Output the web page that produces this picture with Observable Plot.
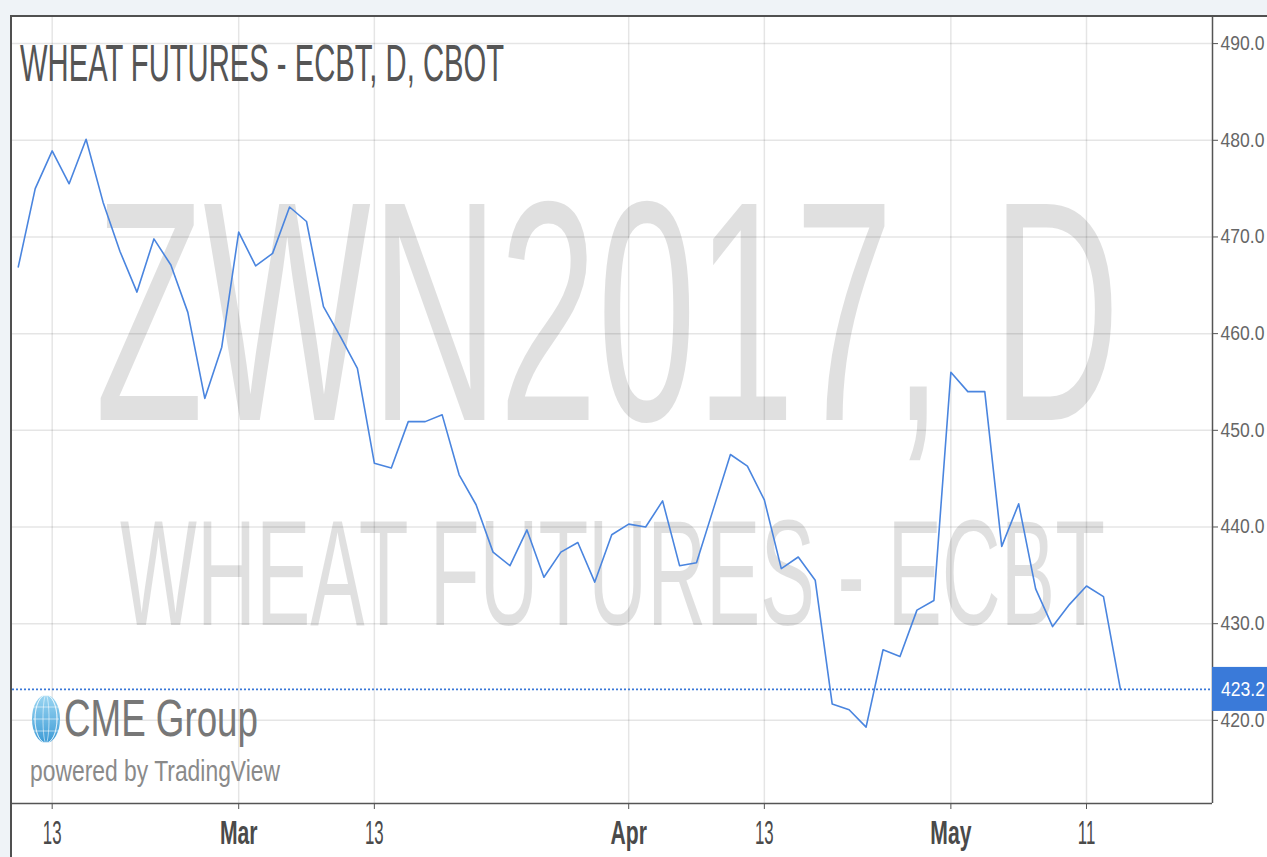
<!DOCTYPE html>
<html><head><meta charset="utf-8">
<script src="https://cdn.jsdelivr.net/npm/d3@7"></script>
<script src="https://cdn.jsdelivr.net/npm/@observablehq/plot@0.6"></script>
<style>
html,body{margin:0;padding:0;background:#eff3f7;}
#wrap{position:absolute;left:10px;top:15px;width:1257px;height:842px;box-sizing:border-box;background:#fff;border-top:2px solid #505050;border-left:2px solid #505050;overflow:hidden;}
</style></head><body><div id="wrap"></div>
<script>
// Trading days (CBOT closed Feb 20 and Apr 14, 2017)
const dates = [
  "2017-02-09","2017-02-10","2017-02-13","2017-02-14","2017-02-15","2017-02-16","2017-02-17","2017-02-21","2017-02-22","2017-02-23","2017-02-24","2017-02-27","2017-02-28",
  "2017-03-01","2017-03-02","2017-03-03","2017-03-06","2017-03-07","2017-03-08","2017-03-09","2017-03-10","2017-03-13","2017-03-14","2017-03-15","2017-03-16","2017-03-17","2017-03-20","2017-03-21","2017-03-22","2017-03-23","2017-03-24","2017-03-27","2017-03-28","2017-03-29","2017-03-30","2017-03-31",
  "2017-04-03","2017-04-04","2017-04-05","2017-04-06","2017-04-07","2017-04-10","2017-04-11","2017-04-12","2017-04-13","2017-04-17","2017-04-18","2017-04-19","2017-04-20","2017-04-21","2017-04-24","2017-04-25","2017-04-26","2017-04-27","2017-04-28",
  "2017-05-01","2017-05-02","2017-05-03","2017-05-04","2017-05-05","2017-05-08","2017-05-09","2017-05-10","2017-05-11","2017-05-12","2017-05-15"
];
const closes = [
  466.9,475.0,478.9,475.5,480.1,473.6,468.5,464.3,469.8,467.1,462.2,453.3,458.6,
  470.5,467.0,468.3,473.1,471.6,462.8,459.7,456.4,446.6,446.1,450.9,450.9,451.6,445.4,442.3,437.4,436.0,439.7,434.8,437.4,438.4,434.3,439.2,
  440.3,440.0,442.7,436.0,436.3,441.9,447.5,446.3,442.8,435.7,436.9,434.5,421.7,421.1,419.3,427.3,426.6,431.4,432.4,
  456.0,454.0,454.0,438.0,442.4,433.6,429.7,432.0,433.9,432.8,423.2
];
const tickDates = ["2017-02-13","2017-03-01","2017-03-13","2017-04-03","2017-04-13","2017-05-01","2017-05-11"];
const tickLabels = ["13","Mar","13","Apr","13","May","11"];
const yTicks = [420,430,440,450,460,470,480,490];
const lastPrice = 423.2;
const xDomain = [-0.34, 70.43];
const yDomain = [411.4, 492.7];
const titleText = "WHEAT FUTURES - ECBT, D, CBOT";
const watermarkSymbol = "ZWN2017, D";
const watermarkName = "WHEAT FUTURES - ECBT";
const logoText = "CME Group";
const poweredText = "powered by TradingView";

const data = dates.map((d, i) => ({i, date: d, close: closes[i]}));
const ticks = tickDates.map((d, k) => ({i: dates.indexOf(d), label: tickLabels[k]}));
const labelOf = new Map(ticks.map(t => [t.i, t.label]));
const dayTicks = ticks.filter(t => !isNaN(+t.label)).map(t => t.i);
const monthTicks = ticks.filter(t => isNaN(+t.label)).map(t => t.i);
const axisColor = "#555";
const FONT = "'Liberation Sans', Arial, sans-serif";

const chart = Plot.plot({
  width: 1255, height: 840,
  marginLeft: 0, marginTop: 0, marginRight: 55, marginBottom: 54,
  style: {background: "white", fontFamily: FONT, overflow: "visible"},
  x: {domain: xDomain, label: null},
  y: {domain: yDomain, label: null},
  marks: [
    Plot.gridY(yTicks, {stroke: "#000", strokeOpacity: 0.1, strokeWidth: 1.5}),
    Plot.gridX(ticks.map(t => t.i), {stroke: "#000", strokeOpacity: 0.1, strokeWidth: 1.5}),
    Plot.line(data, {x: "i", y: "close", stroke: "#4a85df", strokeWidth: 1.6}),
    Plot.ruleY([lastPrice], {stroke: "#3a78d8", strokeDasharray: "2,2", strokeWidth: 1.8}),
    Plot.ruleX([xDomain[1]], {stroke: "#555", strokeWidth: 1.5}),
    Plot.ruleY([yDomain[0]], {stroke: "#555", strokeWidth: 1.5}),
    Plot.axisY(yTicks, {anchor: "right", label: null, tickSize: 5, tickPadding: 3, tickFormat: d => d.toFixed(1), fontSize: 19.5, stroke: axisColor, fill: "#666"}),
    Plot.axisX(dayTicks, {anchor: "bottom", label: null, tickSize: 6, tickPadding: 11, tickFormat: i => labelOf.get(i), fontSize: 33, stroke: axisColor, fill: "#4a4a4a"}),
    Plot.axisX(monthTicks, {anchor: "bottom", label: null, tickSize: 6, tickPadding: 11, tickFormat: i => labelOf.get(i), fontSize: 33, fontWeight: "bold", stroke: axisColor, fill: "#4a4a4a"})
  ]
});

const svg = d3.select(chart);
// condense axis labels (reference uses a narrow face)
svg.selectAll("text").each(function() {
  const txt = this.textContent;
  const t = this.getAttribute("transform") || "";
  let s = 0.9;                          // y-axis values
  if (/^\d{1,2}$/.test(txt)) s = 0.51;  // day labels
  else if (/^[A-Za-z]+$/.test(txt)) s = 0.64; // month labels
  this.setAttribute("transform", t + ` scale(${s},1)`);
});

// watermark layer behind grid & line
const wm = svg.insert("g", "g").attr("font-family", FONT).attr("text-anchor", "start");
wm.append("text").attr("x", 83).attr("y", 403).attr("font-size", 314)
  .attr("textLength", 1025).attr("lengthAdjust", "spacingAndGlyphs")
  .attr("fill", "#000").attr("fill-opacity", 0.12).text(watermarkSymbol);
wm.append("text").attr("x", 108).attr("y", 608).attr("font-size", 151)
  .attr("textLength", 985).attr("lengthAdjust", "spacingAndGlyphs")
  .attr("fill", "#000").attr("fill-opacity", 0.12).text(watermarkName);

// title & logo
const ov = svg.append("g").attr("font-family", FONT).attr("text-anchor", "start");
ov.append("text").attr("x", 8).attr("y", 64).attr("font-size", 52)
  .attr("textLength", 484).attr("lengthAdjust", "spacingAndGlyphs")
  .attr("fill", "#555").text(titleText);

const defs = svg.append("defs");
const grad = defs.append("linearGradient").attr("id", "globe").attr("x1", 0).attr("x2", 0).attr("y1", 0).attr("y2", 1);
grad.append("stop").attr("offset", "0%").attr("stop-color", "#9bd6f2");
grad.append("stop").attr("offset", "100%").attr("stop-color", "#3d9bd6");
ov.append("ellipse").attr("cx", 34).attr("cy", 702).attr("rx", 14).attr("ry", 24).attr("fill", "url(#globe)");
[-8, 0, 8].forEach(o => ov.append("ellipse").attr("cx", 34).attr("cy", 702).attr("rx", Math.abs(o) + 3).attr("ry", 24)
  .attr("fill", "none").attr("stroke", "#fff").attr("stroke-opacity", 0.55).attr("stroke-width", 1));
[-12, 0, 12].forEach(o => ov.append("line").attr("x1", 21).attr("x2", 47).attr("y1", 702 + o).attr("y2", 702 + o)
  .attr("stroke", "#fff").attr("stroke-opacity", 0.55).attr("stroke-width", 1));
ov.append("text").attr("x", 52).attr("y", 719).attr("font-size", 52)
  .attr("textLength", 194).attr("lengthAdjust", "spacingAndGlyphs")
  .attr("fill", "#777").text(logoText);
ov.append("text").attr("x", 18).attr("y", 764).attr("font-size", 29)
  .attr("textLength", 250).attr("lengthAdjust", "spacingAndGlyphs")
  .attr("fill", "#8a8a8a").text(poweredText);

// last price badge
const yS = chart.scale("y");
const py = yS.apply(lastPrice);
ov.append("rect").attr("x", 1200).attr("y", py - 22).attr("width", 60).attr("height", 44).attr("fill", "#3a7ad9");
ov.append("text").attr("y", py).attr("dy", "0.35em").attr("font-size", 19.5)
  .attr("fill", "#fff").attr("transform", `translate(1209,0) scale(0.9,1)`).text(lastPrice.toFixed(1));

document.getElementById("wrap").appendChild(chart);
</script>
</body></html>
